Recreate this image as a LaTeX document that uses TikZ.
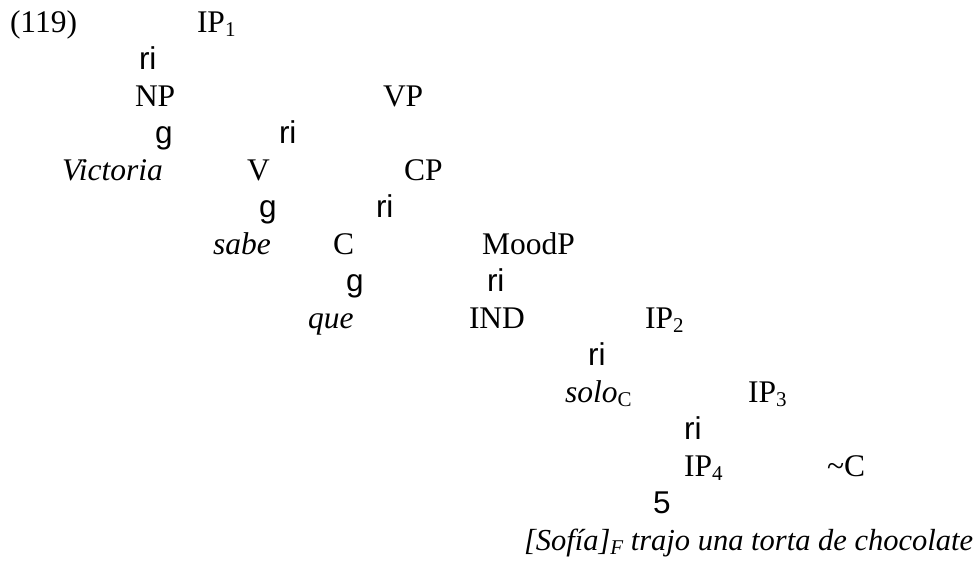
\documentclass[tikz,border=0pt]{standalone}
\usepackage{fontspec}
\setmainfont{Liberation Serif}
\newfontfamily\arialf{Liberation Sans}
\newcommand{\sbx}[1]{\raisebox{-0.14em}{\fontsize{21}{21}\selectfont #1}}
\begin{document}
\begin{tikzpicture}[x=1pt,y=-1pt,
  lbl/.style={anchor=base west,inner sep=0pt,outer sep=0pt,font=\fontsize{31.5}{37}\selectfont},
  brk/.style={anchor=base west,inner sep=0pt,outer sep=0pt,font=\fontsize{31.5}{37}\selectfont\arialf}]
\useasboundingbox (0,0) rectangle (973,560);
% row 0
\node[lbl] (num) at (10,32) {(119)};
\node[lbl] (ip1) at (197,32) {IP\sbx{1}};
% row 1
\node[brk] (b1) at (139,69) {ri};
% row 2
\node[lbl] (np) at (135,106) {NP};
\node[lbl] (vp) at (383,106) {VP};
% row 3
\node[brk] (g1) at (155,143) {g};
\node[brk] (b2) at (279,143) {ri};
% row 4
\node[lbl] (victoria) at (62,180) {\itshape Victoria};
\node[lbl] (v) at (247,180) {V};
\node[lbl] (cp) at (404,180) {CP};
% row 5
\node[brk] (g2) at (259,217) {g};
\node[brk] (b3) at (376,217) {ri};
% row 6
\node[lbl] (sabe) at (213,254) {\itshape sabe};
\node[lbl] (c) at (333,254) {C};
\node[lbl] (moodp) at (482,254) {MoodP};
% row 7
\node[brk] (g3) at (346,291) {g};
\node[brk] (b4) at (487,291) {ri};
% row 8
\node[lbl] (que) at (308,328) {\itshape que};
\node[lbl] (ind) at (469,328) {IND};
\node[lbl] (ip2) at (645,328) {IP\sbx{2}};
% row 9
\node[brk] (b5) at (588,365) {ri};
% row 10
\node[lbl] (solo) at (565,402) {\itshape solo\sbx{\upshape C}};
\node[lbl] (ip3) at (748,402) {IP\sbx{3}};
% row 11
\node[brk] (b6) at (684,439) {ri};
% row 12
\node[lbl] (ip4) at (684,476) {IP\sbx{4}};
\node[lbl] (negc) at (827,476) {\textasciitilde C};
% row 13
\node[brk] (tri) at (653,513) {5};
% row 14
\node[lbl,font=\fontsize{30.5}{37}\selectfont] (sent) at (524,550) {\itshape [Sofía]\sbx{F} trajo una torta de chocolate};
\end{tikzpicture}
\end{document}
